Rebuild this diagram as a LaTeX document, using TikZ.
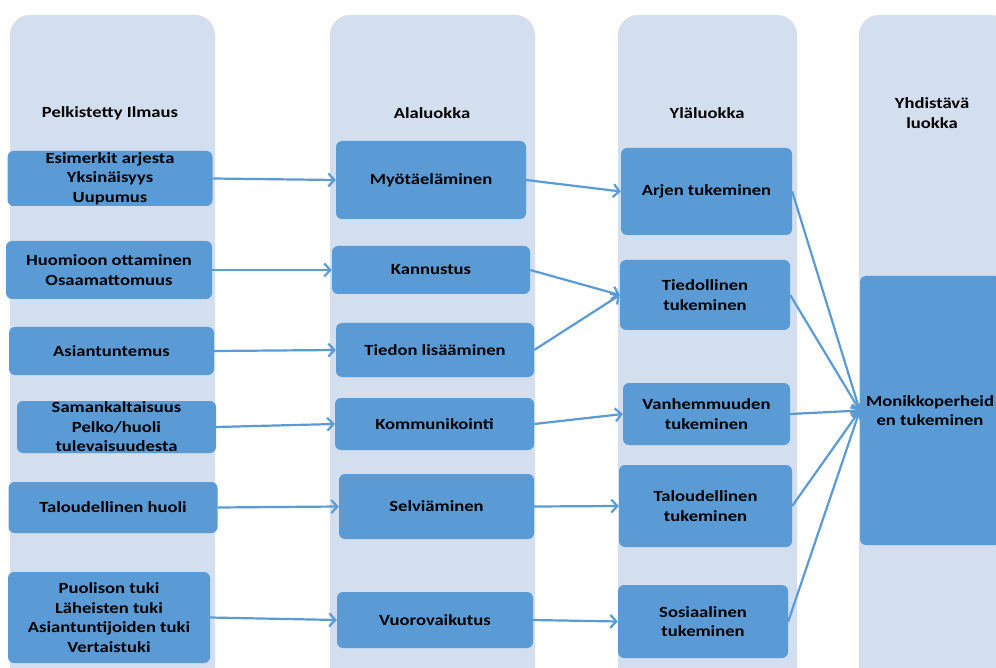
\documentclass[tikz,border=0pt]{standalone}
\usepackage{fontspec}
\setmainfont{Carlito}[FakeStretch=1.2]
\usepackage{tikz}
\usetikzlibrary{arrows.meta}

\definecolor{lanefill}{RGB}{211,222,239}
\definecolor{boxfill}{RGB}{91,155,213}

\tikzset{
  lane/.style={fill=lanefill, rounded corners=20pt},
  head/.style={align=center, inner sep=0pt},
  item/.style={fill=boxfill, rounded corners=6pt, align=center, inner sep=0pt},
  link/.style={draw=boxfill, line width=2.2pt, -{Straight Barb[length=6pt,width=13pt]}},
}

\begin{document}
\begin{tikzpicture}[x=1pt, y=-1pt, every node/.style={font=\fontsize{15.5}{19.5}\selectfont\bfseries}]
    \useasboundingbox (0,0) rectangle (996,668);
    \fill[white] (0,0) rectangle (996,668);
    \clip (0,0) rectangle (996,668);

    % Define lanes
    \fill[lane] (10,15) rectangle (215,700);
    \fill[lane] (330,15) rectangle (535,700);
    \fill[lane] (618,15) rectangle (797,700);
    \fill[lane] (859,15) rectangle (1010,700);

    \node[head] (h1) at (110,113) {Pelkistetty Ilmaus};
    \node[head] (h2) at (432,113) {Alaluokka};
    \node[head] (h3) at (707,113) {Yläluokka};
    \node[head] (h4) at (932,113) {Yhdistävä\\luokka};

    % Define nodes
    \node[item, minimum width=205, minimum height=55] (esi) at (110,178.5) {Esimerkit arjesta\\Yksinäisyys\\Uupumus};
    \node[item, minimum width=206, minimum height=58] (huo) at (109,270) {Huomioon ottaminen\\Osaamattomuus};
    \node[item, minimum width=205, minimum height=48] (asi) at (111.5,351) {Asiantuntemus};
    \node[item, minimum width=199, minimum height=52] (sam) at (116.5,427) {Samankaltaisuus\\Pelko/huoli\\tulevaisuudesta};
    \node[item, minimum width=209, minimum height=51] (tal) at (113,507.5) {Taloudellinen huoli};
    \node[item, minimum width=202, minimum height=91] (puo) at (109,617.5) {Puolison tuki\\Läheisten tuki\\Asiantuntijoiden tuki\\Vertaistuki};

    \node[item, minimum width=190, minimum height=78] (myo) at (431,180) {Myötäeläminen};
    \node[item, minimum width=198, minimum height=48] (kan) at (431,270) {Kannustus};
    \node[item, minimum width=198, minimum height=54] (tli) at (435,350) {Tiedon lisääminen};
    \node[item, minimum width=199, minimum height=52] (kom) at (434.5,424) {Kommunikointi};
    \node[item, minimum width=195, minimum height=65] (sel) at (436.5,506.5) {Selviäminen};
    \node[item, minimum width=196, minimum height=56] (vuo) at (435,620) {Vuorovaikutus};

    \node[item, minimum width=171, minimum height=87] (arj) at (706.5,191.5) {Arjen tukeminen};
    \node[item, minimum width=170, minimum height=70] (tie) at (705,295) {Tiedollinen\\tukeminen};
    \node[item, minimum width=167, minimum height=62] (van) at (706.5,414) {Vanhemmuuden\\tukeminen};
    \node[item, minimum width=173, minimum height=82] (tto) at (705.5,506) {Taloudellinen\\tukeminen};
    \node[item, minimum width=170, minimum height=73] (sos) at (703,621.5) {Sosiaalinen\\tukeminen};

    \node[item, minimum width=140, minimum height=269] (mon) at (930,410.5) {Monikkoperheid\\en tukeminen};

    % Connect nodes
    \draw[link] (esi.east) -- (myo.west);
    \draw[link] (huo.east) -- (kan.west);
    \draw[link] (asi.east) -- (tli.west);
    \draw[link] (sam.east) -- (kom.west);
    \draw[link] (tal.east) -- (sel.west);
    \draw[link] (puo.east) -- (vuo.west);

    \draw[link] (myo.east) -- (arj.west);
    \draw[link] (kan.east) -- (tie.west);
    \draw[link] (tli.east) -- (tie.west);
    \draw[link] (kom.east) -- (van.west);
    \draw[link] (sel.east) -- (tto.west);
    \draw[link] (vuo.east) -- (sos.west);

    \foreach \src in {arj,tie,van,tto,sos}
        \draw[link] (\src.east) -- (mon.west);
\end{tikzpicture}
\end{document}
